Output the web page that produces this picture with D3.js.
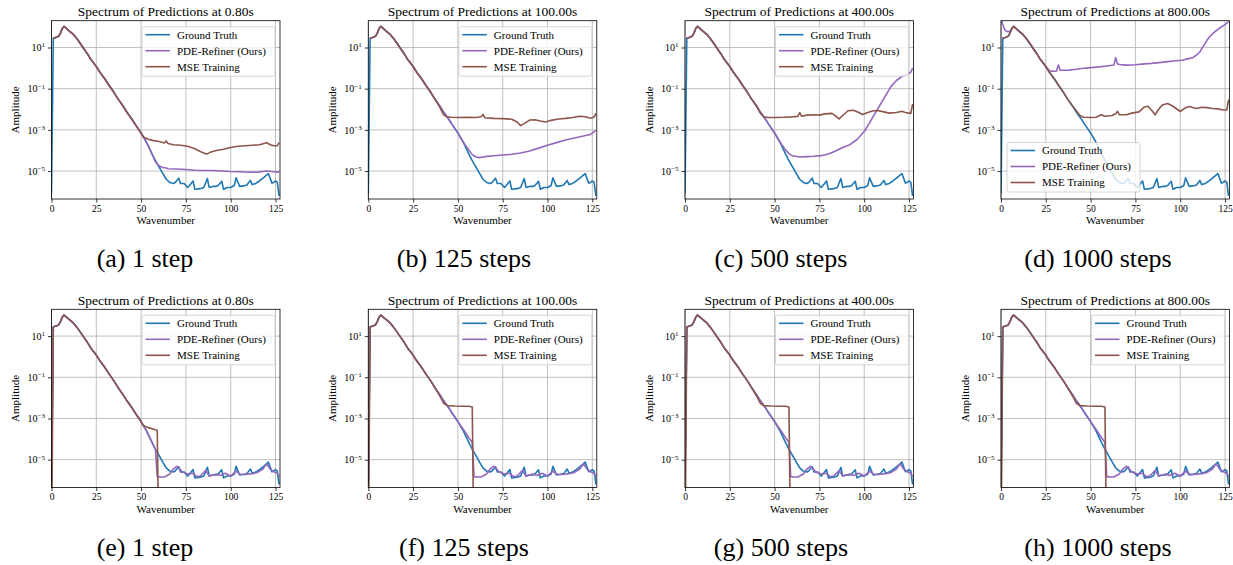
<!DOCTYPE html>
<html>
<head>
<meta charset="utf-8">
<script src="https://cdn.jsdelivr.net/npm/d3@7"></script>
<style>
  body { margin: 0; background: #fff; }
  svg { display: block; }
  text { font-family: "Liberation Serif", "Times New Roman", serif; fill: #000; }
</style>
</head>
<body>
<svg id="fig" width="1233" height="565"></svg>
<script>
// ---- data (wavenumber, amplitude) ----
var titles = ["Spectrum of Predictions at 0.80s", "Spectrum of Predictions at 100.00s",
              "Spectrum of Predictions at 400.00s", "Spectrum of Predictions at 800.00s"];
var captions = ["(a) 1 step", "(b) 125 steps", "(c) 500 steps", "(d) 1000 steps",
                "(e) 1 step", "(f) 125 steps", "(g) 500 steps", "(h) 1000 steps"];
var seriesNames = ["Ground Truth", "PDE-Refiner (Ours)", "MSE Training"];
var seriesColors = ["#1f77b4", "#9467bd", "#8c564b"];
var xTicks = [0, 25, 50, 75, 100, 125];
var yTicks = [1e1, 1e-1, 1e-3, 1e-5];

var groundTruth = [[0,8e-7],[1,28],[2,30],[3,32],[4,35],[5,50],[6,83],[7,105],[8,89],[9,74],[10,63],
  [12,45],[14,28],[16,16],[18,8.9],[20,5.0],[22,2.6],[25,1.2],[27,0.63],[30,0.28],[32,0.15],[35,0.063],
  [37,0.033],[40,0.014],[42,7.4e-3],[45,3.2e-3],[47,1.7e-3],[50,7.1e-4],[53,2.5e-4],[56,7.1e-5],
  [58,3.2e-5],[60,1.6e-5],[62,7.9e-6],[64,4.0e-6],[66,2.8e-6],[68,2.5e-6],[69,2.8e-6],[71,4.5e-6],
  [72,2.5e-6],[74,2.5e-6],[76,1.6e-6],[77,2.0e-6],[79,3.3e-6],[80,1.3e-6],[83,1.4e-6],[85,1.6e-6],
  [87,4.3e-6],[88,1.6e-6],[90,1.8e-6],[92,1.8e-6],[93,2.0e-6],[95,3.2e-6],[96,1.3e-6],[98,1.6e-6],
  [100,1.6e-6],[102,2.0e-6],[103,4.7e-6],[105,1.8e-6],[107,1.9e-6],[109,2.1e-6],[111,3.5e-6],
  [112,2.2e-6],[114,2.5e-6],[116,3.3e-6],[118,4.5e-6],[120,6.3e-6],[121,7.6e-6],[122,4.5e-6],
  [123,2.6e-6],[124,2.8e-6],[125,3.3e-6],[126,2.8e-6],[127,6.3e-7]];

// predictions follow the ground truth on the low wavenumbers
function gtBetween(a, b) {
  return groundTruth.filter(function(d) { return d[0] >= a && d[0] <= b; });
}

var pdeTail1 = [[58,2.8e-5],[60,1.8e-5],[62,1.5e-5],[64,1.4e-5],[65,1.3e-5],[70,1.26e-5],[75,1.2e-5],
  [80,1.1e-5],[85,1.07e-5],[90,1.07e-5],[95,1.0e-5],[100,9.5e-6],[105,9.3e-6],[110,8.7e-6],
  [115,8.9e-6],[120,1.0e-5],[124,9.3e-6],[127,8.9e-6]];
var mseTail1 = [[51,4.7e-4],[54,3.5e-4],[57,3.0e-4],[60,2.7e-4],[63,2.3e-4],[64,2.9e-4],[65,2.2e-4],
  [68,1.9e-4],[72,1.8e-4],[76,1.6e-4],[80,1.2e-4],[83,9e-5],[86,7e-5],[87,6.8e-5],[89,8.5e-5],
  [92,1.0e-4],[96,1.15e-4],[100,1.4e-4],[104,1.6e-4],[108,1.7e-4],[112,1.8e-4],[116,1.9e-4],
  [118,2.1e-4],[120,2.4e-4],[122,1.9e-4],[124,1.7e-4],[126,1.7e-4],[127,2.4e-4]];

var pdeTail125 = [[52,3.5e-4],[54,1.9e-4],[56,1.1e-4],[58,6.3e-5],[60,4.8e-5],[62,4.5e-5],[65,5.0e-5],
  [70,5.5e-5],[75,6.0e-5],[80,6.5e-5],[85,7.6e-5],[90,9.5e-5],[95,1.3e-4],[100,1.8e-4],[105,2.4e-4],
  [110,3.2e-4],[115,4.0e-4],[120,5.0e-4],[124,6.0e-4],[127,9.5e-4]];
var mseTail125 = [[40,1.2e-2],[42,5.4e-3],[44,4.3e-3],[46,4.1e-3],[50,4.0e-3],[55,4.1e-3],[60,4.0e-3],
  [63,4.3e-3],[64,5.6e-3],[65,3.9e-3],[70,3.6e-3],[75,3.5e-3],[80,3.3e-3],[83,2.4e-3],[85,1.6e-3],
  [87,2.0e-3],[90,3.0e-3],[93,3.1e-3],[96,2.7e-3],[99,2.4e-3],[102,2.9e-3],[106,3.4e-3],[110,3.6e-3],
  [114,4.0e-3],[118,4.6e-3],[121,4.3e-3],[124,3.7e-3],[126,4.2e-3],[127,6.3e-3]];

var pdeTail500 = [[52,3.5e-4],[54,1.9e-4],[56,1.1e-4],[58,7.0e-5],[60,5.5e-5],[64,4.8e-5],[68,5.0e-5],
  [72,5.2e-5],[76,5.6e-5],[80,6.8e-5],[84,9.5e-5],[88,1.4e-4],[92,1.9e-4],[96,3.4e-4],[100,8.3e-4],
  [103,2.2e-3],[106,6.3e-3],[109,1.7e-2],[112,4.7e-2],[115,0.13],[118,0.25],[121,0.39],[124,0.5],
  [126,0.63],[127,1.0]];
var mseTail500 = [[42,6.5e-3],[44,4.3e-3],[46,4.0e-3],[50,4.0e-3],[55,4.1e-3],[60,4.3e-3],[63,4.5e-3],
  [64,7.0e-3],[65,4.6e-3],[68,5.2e-3],[72,5.4e-3],[75,5.2e-3],[78,6.0e-3],[82,6.3e-3],[84,4.8e-3],
  [86,3.4e-3],[88,5.0e-3],[91,8.5e-3],[94,9.0e-3],[97,7.0e-3],[99,5.6e-3],[102,7.0e-3],[105,8.5e-3],
  [108,8.5e-3],[111,7.5e-3],[114,6.5e-3],[118,7.0e-3],[121,8.0e-3],[123,7.0e-3],[126,6.3e-3],[127,1.8e-2]];

var pdeHead1000 = [[0,250],[1,130],[2,75],[3,62],[4,58],[5,62],[6,80],[7,105]];
var pdeTail1000 = [[27,0.75],[28,0.71],[30,0.7],[31,0.72],[32,1.4],[33,0.8],[35,0.78],[38,0.8],[42,0.88],
  [45,0.95],[50,1.05],[55,1.15],[60,1.3],[63,1.4],[64,3.2],[65,1.6],[66,1.5],[70,1.4],[75,1.45],[80,1.6],
  [84,1.7],[88,1.85],[92,2.0],[96,2.2],[101,2.4],[104,2.8],[107,3.2],[109,4.2],[111,6.2],[113,12],
  [115,23],[117,38],[119,55],[121,75],[123,100],[125,130],[127,178]];
var mseTail1000 = [[42,8.5e-3],[44,5.0e-3],[46,4.1e-3],[50,4.0e-3],[53,4.1e-3],[56,5.4e-3],[58,4.6e-3],
  [62,5.0e-3],[64,6.0e-3],[65,8.0e-3],[66,5.5e-3],[70,5.4e-3],[73,6.5e-3],[77,7.5e-3],[80,1.3e-2],
  [82,1.4e-2],[84,9e-3],[86,5.4e-3],[88,1.0e-2],[90,1.6e-2],[93,1.9e-2],[96,1.4e-2],[100,7.8e-3],
  [103,1.2e-2],[105,1.35e-2],[109,1.1e-2],[112,1.25e-2],[115,1.2e-2],[118,1.1e-2],[121,1.05e-2],
  [124,9.3e-3],[126,9.3e-3],[127,2.9e-2]];

// bottom row: MSE is cut to zero above k=59, PDE-Refiner sits on the noise floor
var pdeFloor = [[59,1.5e-6],[61,1.45e-6],[63,1.45e-6],[64,1.6e-6],[66,2.0e-6],[68,3.5e-6],[70,4.8e-6],
  [71,4.0e-6],[73,2.5e-6],[76,2.0e-6],[79,2.2e-6],[81,1.5e-6],[83,1.6e-6],[86,3.0e-6],[88,1.6e-6],
  [90,1.8e-6],[92,2.0e-6],[94,1.7e-6],[97,2.2e-6],[100,1.6e-6],[103,2.8e-6],[105,2.0e-6],[108,1.9e-6],
  [112,2.1e-6],[115,2.4e-6],[118,3.5e-6],[120,6.4e-6],[122,3.5e-6],[124,2.6e-6],[126,2.2e-6],[127,1.5e-6]];
var pdeBump = [[52,4.0e-4],[54,2.2e-4],[56,1.2e-4],[58,7.0e-5]];
var mseCut1 = [[51,4.7e-4],[53,3.9e-4],[55,3.4e-4],[57,3.0e-4],[59,2.7e-4],[60,1e-10],[127,1e-10]];
var mseCutLong = [[40,1.2e-2],[42,5.5e-3],[44,4.2e-3],[48,4.0e-3],[52,3.9e-3],[56,3.9e-3],[58,3.6e-3],
  [59,1e-10],[127,1e-10]];
var zeroStart = [[0,1e-10]];

var panels = [
  { pde: gtBetween(1, 56).concat(pdeTail1),   mse: gtBetween(1, 50).concat(mseTail1),   legend: "ur" },
  { pde: gtBetween(1, 50).concat(pdeTail125), mse: gtBetween(1, 37).concat(mseTail125), legend: "ur" },
  { pde: gtBetween(1, 50).concat(pdeTail500), mse: gtBetween(1, 40).concat(mseTail500), legend: "ur" },
  { pde: pdeHead1000.concat(gtBetween(8, 25), pdeTail1000), mse: gtBetween(1, 40).concat(mseTail1000), legend: "ll" },
  { pde: gtBetween(0, 58).concat(pdeFloor), mse: zeroStart.concat(gtBetween(1, 50), mseCut1), legend: "ur" },
  { pde: gtBetween(0, 50).concat(pdeBump, pdeFloor), mse: zeroStart.concat(gtBetween(1, 37), mseCutLong), legend: "ur" },
  { pde: gtBetween(0, 50).concat(pdeBump, pdeFloor), mse: zeroStart.concat(gtBetween(1, 37), mseCutLong), legend: "ur" },
  { pde: gtBetween(0, 50).concat(pdeBump, pdeFloor), mse: zeroStart.concat(gtBetween(1, 37), mseCutLong), legend: "ur" }
];

// ---- layout ----
var panelLeft = [51.5, 368.3, 685, 1001];
var rowTop = [20.7, 309.3];
var axW = 228.5, axH = 178.3;
var captionX = [145, 464, 781, 1098];
var captionY = [267, 556];

var svg = d3.select("#fig");
var x = d3.scaleLinear().domain([0, 127.5]).range([0, axW]);
var y = d3.scaleLog().domain([4.4e-7, 2.0e2]).range([axH, 0]);
var line = d3.line().x(function(d) { return x(d[0]); }).y(function(d) { return y(d[1]); });
var supers = { "1": "1", "-1": "\u22121", "-3": "\u22123", "-5": "\u22125" };

panels.forEach(function(p, i) {
  var row = Math.floor(i / 4), col = i % 4;
  var g = svg.append("g").attr("transform", "translate(" + panelLeft[col] + "," + rowTop[row] + ")");

  // grid
  g.append("g").selectAll("line").data(xTicks).join("line")
    .attr("x1", function(d) { return x(d); }).attr("x2", function(d) { return x(d); })
    .attr("y1", 0).attr("y2", axH)
    .attr("stroke", "#b0b0b0").attr("stroke-width", 0.8);
  g.append("g").selectAll("line").data(yTicks).join("line")
    .attr("y1", function(d) { return y(d); }).attr("y2", function(d) { return y(d); })
    .attr("x1", 0).attr("x2", axW)
    .attr("stroke", "#b0b0b0").attr("stroke-width", 0.8);

  // lines
  var clipId = "clip" + i;
  g.append("clipPath").attr("id", clipId).append("rect")
    .attr("width", axW).attr("height", axH);
  var plot = g.append("g").attr("clip-path", "url(#" + clipId + ")");
  [groundTruth, p.pde, p.mse].forEach(function(data, s) {
    plot.append("path").datum(data)
      .attr("d", line)
      .attr("fill", "none")
      .attr("stroke", seriesColors[s])
      .attr("stroke-width", 1.6)
      .attr("stroke-linejoin", "round");
  });

  // axes
  var xa = g.append("g").attr("transform", "translate(0," + axH + ")")
    .call(d3.axisBottom(x).tickValues(xTicks).tickSize(3.5).tickPadding(2.5));
  xa.selectAll("text").attr("font-size", 9.5);
  var ya = g.append("g")
    .call(d3.axisLeft(y).tickValues(yTicks).tickSize(3.5).tickFormat(""));
  [xa, ya].forEach(function(a) {
    a.select(".domain").remove();
    a.selectAll("line").attr("stroke", "#000").attr("stroke-width", 0.8);
  });
  ya.selectAll(".tick").append("text")
    .attr("x", -6.5).attr("dy", "0.32em").attr("text-anchor", "end")
    .attr("font-size", 10).attr("fill", "#000")
    .each(function(d) {
      var t = d3.select(this);
      var e = String(Math.round(Math.log10(d)));
      t.append("tspan").text("10");
      t.append("tspan").attr("font-size", 7).attr("dy", "-0.55em").text(supers[e]);
    });

  // frame
  g.append("rect").attr("width", axW).attr("height", axH)
    .attr("fill", "none").attr("stroke", "#000").attr("stroke-width", 0.8);

  // title and labels
  g.append("text").attr("x", axW / 2).attr("y", -4.5).attr("text-anchor", "middle")
    .attr("font-size", 13.5).text(titles[col]);
  g.append("text").attr("x", axW / 2).attr("y", axH + 25.5).attr("text-anchor", "middle")
    .attr("font-size", 11).text("Wavenumber");
  g.append("text").attr("transform", "translate(" + (-32.5) + "," + (axH / 2) + ") rotate(-90)")
    .attr("text-anchor", "middle").attr("font-size", 11).text("Amplitude");

  // legend
  var lw = 133, lh = 49.5;
  var lx = p.legend === "ur" ? axW - 5 - lw : 6;
  var ly = p.legend === "ur" ? 6 : axH - 7 - lh;
  var lg = g.append("g").attr("transform", "translate(" + lx + "," + ly + ")");
  lg.append("rect").attr("width", lw).attr("height", lh).attr("rx", 2)
    .attr("fill", "#fff").attr("fill-opacity", 0.8)
    .attr("stroke", "#cccccc").attr("stroke-width", 0.8);
  var items = lg.selectAll("g.item").data(seriesNames).join("g")
    .attr("class", "item")
    .attr("transform", function(d, k) { return "translate(0," + (8 + k * 16) + ")"; });
  items.append("line").attr("x1", 3.5).attr("x2", 28)
    .attr("stroke", function(d, k) { return seriesColors[k]; }).attr("stroke-width", 1.6);
  items.append("text").attr("x", 35).attr("dy", "0.35em").attr("font-size", 11)
    .text(function(d) { return d; });

  // caption
  svg.append("text").attr("x", captionX[col]).attr("y", captionY[row])
    .attr("text-anchor", "middle").attr("font-size", 26).text(captions[i]);
});
</script>
</body>
</html>
